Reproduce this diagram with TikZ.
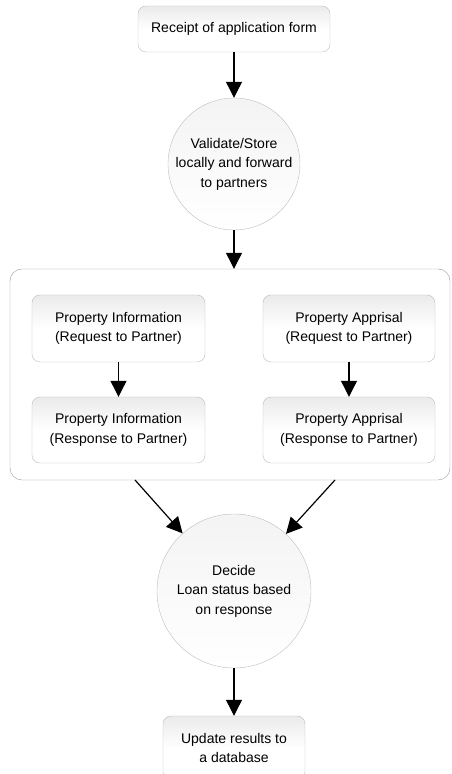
\documentclass[tikz,border=0pt]{standalone}
\usepackage{fontspec}
\setmainfont{Liberation Sans}
\usetikzlibrary{arrows.meta,shapes.geometric}

\definecolor{edgegray}{HTML}{BDBDBD}
\definecolor{framegray}{HTML}{9A9A9A}

\begin{document}
\begin{tikzpicture}[x=1pt,y=1pt,
        every node/.style={font=\fontsize{14}{19.5}\selectfont, align=center},
        stepbox/.style={draw=edgegray, rounded corners=8pt, top color=gray!16,
            bottom color=white, middle color=white, inner sep=2pt},
        roundstep/.style={circle, draw=edgegray, top color=gray!9, bottom color=white,
            inner sep=0pt},
        flow/.style={-{Triangle[length=16pt,width=16pt]}, line width=1.2pt, black}]
    \useasboundingbox (0,0) rectangle (452,774);

    \node[draw=framegray, rounded corners=12pt, fill=white,
        minimum width=440, minimum height=211] (group) at (230,399.5) {};

    \node[stepbox, minimum width=192, minimum height=46] (receipt) at (234,745)
        {Receipt of application form};
    \node[roundstep, minimum size=132] (validate) at (234,610)
        {Validate/Store\\locally and forward\\to partners};

    \node[stepbox, minimum width=173, minimum height=67] (inforeq) at (118.5,445.5)
        {Property Information\\(Request to Partner)};
    \node[stepbox, minimum width=173, minimum height=66] (infores) at (118.5,344)
        {Property Information\\(Response to Partner)};
    \node[stepbox, minimum width=172, minimum height=67] (apprreq) at (349,445.5)
        {Property Apprisal\\(Request to Partner)};
    \node[stepbox, minimum width=172, minimum height=66] (apprres) at (349,344)
        {Property Apprisal\\(Response to Partner)};

    \node[roundstep, minimum size=154] (decide) at (234,183)
        {Decide\\Loan status based\\on response};
    \node[stepbox, minimum width=142, minimum height=64] (update) at (234,26)
        {Update results to\\a database};

    \coordinate (outleft) at (135,294);
    \coordinate (outright) at (335,294);

    \draw[flow] (receipt) -- (validate);
    \draw[flow] (validate) -- (validate |- group.north);
    \draw[flow] (inforeq) -- (infores);
    \draw[flow] (apprreq) -- (apprres);
    \draw[flow] (outleft) -- (decide);
    \draw[flow] (outright) -- (decide);
    \draw[flow] (decide) -- (update);
\end{tikzpicture}
\end{document}
